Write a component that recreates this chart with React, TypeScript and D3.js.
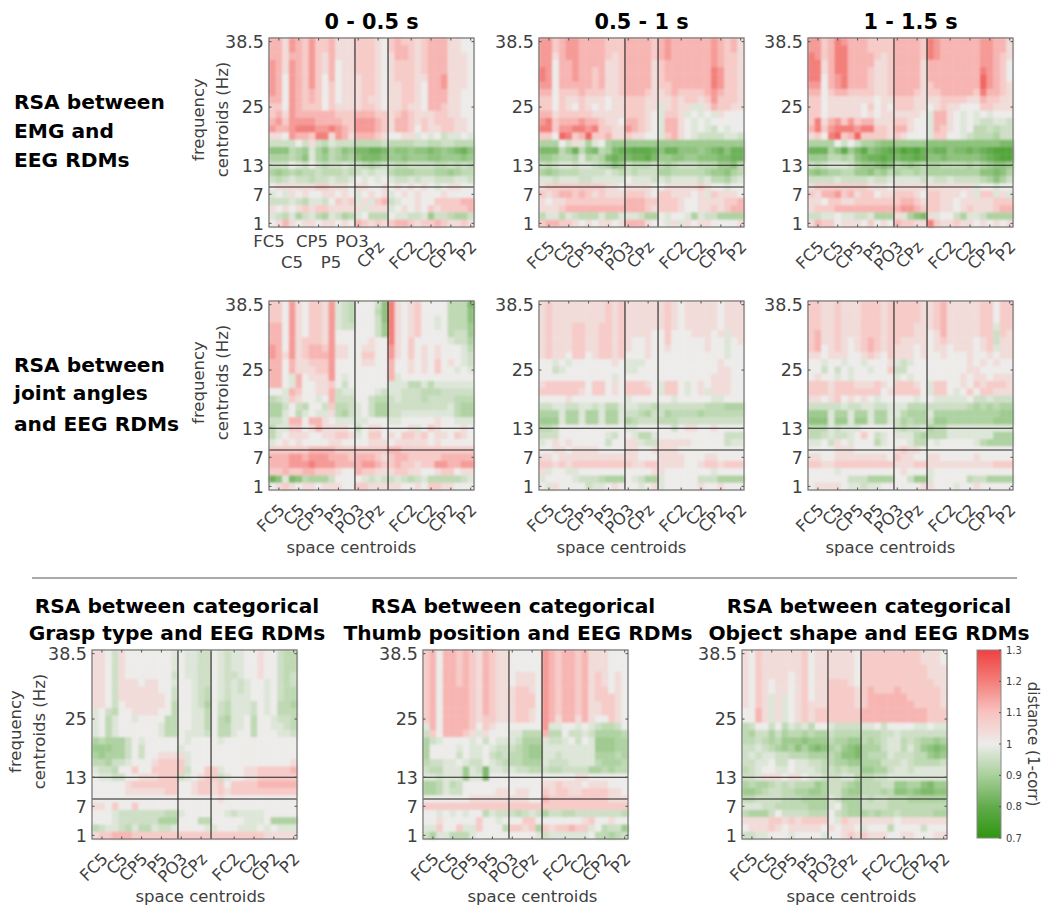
import React from 'react';
import * as d3 from 'd3';

// each row is one frequency centroid (38.5 Hz on top), each char one electrode
// digits = above 1, letters = below 1, groups are split where the black lines are
const emg0 = [
  '3314324223111 22210 2322123331100',
  '3314324223111 22210 2332123331100',
  '3313324213111 22210 1332123331110',
  '4314324213011 22210 1222123331110',
  '4314324213011 22210 1222123331110',
  '4304324203011 12210 1222113341110',
  '4304324202011 12210 1122103341110',
  '4304323202011 12210 1122103331100',
  '3304323202011 12110 1122103331100',
  '2204322202111 12210 1121103321100',
  '2314333333222 33322 1232111221100',
  '3424444333322 44432 1332121222110',
  '4334555445432 44432 1332021122110',
  '1104332551431 33321 0011a0a0baa0a',
  'bbbb0b1bcabbb ccccb ccccbbccbbccc',
  'fffcdeadfcdfe gghhg effeffgfefghf',
  'dddcdfadecded fgggf eefeeeffeeefe',
  'bbb0ab0bcbbab bcdcb bccbbbbccbcbc',
  'dedcdccbcccbc babaa cdddcccddedcc',
  'bcbabbcbbabba 0a0a0 abbabaabbbaab',
  '0111111221110 11001 0101010a01100',
  'a0a1010011010 a0101 a010100010000',
  'bbbabcaab0212 a1a23 ba00100222233',
  '1010121221111 1a111 a010102122223',
  'abcadbacdabdc a0ccc 0aabbaebbcddb',
  '0131011011010 32121 2332122321121',
];
const emg1 = [
  '4423443333222 33332 3433333343231',
  '4423443333222 33332 3433333343231',
  '4413443333212 33332 3433333343221',
  '4403343333112 33331 2333333343221',
  '5403343323112 33331 2333333354221',
  '5403343323112 33331 2333333354221',
  '4403333323112 33331 2233333354221',
  '3302223222112 33321 1232222343221',
  '2202112111011 22211 1121221242221',
  '2202102101011 22211 a1211aa132211',
  '3312222211111 22210 a221a0a0a1000',
  '4523334332110 33210 a3310a0a00000',
  '5524455452211 43210 a3310a0ab0a00',
  '2206523622311 21100 a2310abbbbaab',
  'ddd0b1ada0dee eeeee eeeeeeeeeeeee',
  'gggcehcfgcdgh hiiih fhhfffefghfhh',
  'eedccdadcdghg ghhig eeffeefffgghh',
  'bcbaabaabcdfe bcccb cdcbbbccceefc',
  'dedcccbbbbabc bcbbb ddcccccdeefdc',
  'aabaaabbaaaaa 0aaab abaaaabaccdba',
  '1222222222110 11110 0111112100a00',
  '2123323212111 22210 2211101a21110',
  '1011222222222 33322 2221001111223',
  '1112333333333 33321 2221001121233',
  'caacabcccacca aabdd 0a00adabbdddd',
  '2332210101101 33310 0a1a101100001',
];
const emg2 = [
  '4423543332222 33332 5433333344331',
  '4423553332222 33332 5433333344331',
  '5423553333212 33332 5433333344321',
  '5513553333112 33331 3333333344320',
  '5513553332112 33331 3333333354320',
  '5503453332112 33331 3333333364320',
  '4403453332112 33331 2333333364321',
  '3302332222112 33321 2233333253321',
  '2201111111011 22211 1122221132211',
  '2201111102010 22211 0121100022111',
  '2201111101011 11110 a3310a0a0a000',
  '2513424233111 22100 a3310a0abbaab',
  '3524555455221 33100 a3210a0ccbcbb',
  '1205623622221 21000 a2200abcccdbb',
  'dddd0b0bddeff eeeee fffffffffffgg',
  'hhhdfiegifghi hjijh ghhfgghghijjj',
  'eeeccdcfghhih ghhih ffgfffffghijj',
  'bcbaaabdeefgf cdedc ddccccdcdeffe',
  'efeddcceefdec dccdc ddddddddffgfd',
  'bbbbabbbbabba aaaab abbabbbbcdfdb',
  '1222222221110 11111 1111111a00a00',
  '2133423122011 22210 2211101a22a1a',
  '1102211222222 23321 2211011111222',
  '1222333333333 34432 2211012111233',
  'bbaa0aabbaddd 1adfg 1a00bdaabdddd',
  '1322011102010 32211 5211211010101',
];
const joint0 = [
  '2204102214abc 000bf 510120000cccg',
  '2204102214abc 000cf 510120000cccf',
  '2204102214abc 000bf 5101200a0cccf',
  '3304102214abb 000be 5101200a0ccce',
  '3304102214000 000be 510120000cbbe',
  '3304122214000 00100 510200000abbd',
  '4304123324110 01100 41020101000ac',
  '4314123334110 02200 41020101000ab',
  '3303112224000 01100 30010102010ab',
  '3303111224000 00000 3001010200a0a',
  '330a3011140a0 00000 3a00000000000',
  '330a3001120b0 00000 aaaccacaaaaaa',
  '00a3200113baa 000ab aabbbcccbbbbb',
  'cba2100a03bbb 00bcc babbbcbbbbccc',
  'ddb0bc00b2ccb a0bdd bbbbbbbbbacdd',
  'dda0ca0aa1cdb a0bdd bbaaaaaaaacdd',
  'bba3303310aaa aa000 aa00000100aaa',
  'caa2201311110 b0110 0001a02100010',
  'ca01110011221 a0220 1022120110210',
  'a010100001100 00111 0111110100000',
  '2222223333222 22222 3322222222222',
  '3334434443332 33321 2332222233333',
  '3334445444333 34432 2322122443344',
  '2232233222100 32211 1221100122011',
  'hfagfcdddb000 0abab babcbacccccba',
  '0121011011100 22111 1100102211000',
];
const joint1 = [
  '1211111111212 11111 1210111110111',
  '1211111111212 11111 1210111110111',
  '1211111111212 11111 1210111110111',
  '1211122112212 11111 1210111110111',
  '1211122112212 11110 0200011101a11',
  '1211122112212 10010 0200000100a01',
  '1211122112212 10010 0100000100a00',
  '1211022012212 00010 0000000000a00',
  '00a0a00000010 aaa00 0000000001000',
  '00ba000000000 aa000 0000000001100',
  '00000000000a0 00000 0000000011100',
  '1222222022010 22210 a220a01011100',
  '2222221022010 22220 a220a01a11100',
  '0000100000000 a0000 00a00000aa000',
  'bbaabbaabacca aabbc bbbbbbbcccddd',
  'dddaddaddadda bbcdb bdccccdcccccc',
  'eeeaddaddadda dcbbb cccbbbbbbbbbb',
  'ccb0000000000 aa000 00b0110010000',
  'bbb0000000ab0 0acca 0000000000bbb',
  'a010100000b00 11abb 1111100000baa',
  '0011011110000 11001 1110000000000',
  '1101111111111 11000 1111000110000',
  '2212122222222 21122 1111001221222',
  '1a00aa0000000 00001 10000000a0000',
  'a0000abbbcddd 0abdd a00000bbbdddd',
  '0a10000baa010 00a01 a000001001000',
];
const joint2 = [
  '2211211122212 22221 1231111122022',
  '2211211122212 22221 1231111122022',
  '2211211122212 22221 1231111122022',
  '2211211122212 22211 1231111122a22',
  '2311211122212 22211 0131111122b21',
  '2311210123212 21111 0121111012b11',
  '2301210123212 11101 0110111012a11',
  '1101110012102 11101 0010001001011',
  '00a00a00a0001 aba00 0000001010100',
  '00b0b0a00a002 bb000 0000001100000',
  '0100a0a000000 a0a00 0000010110111',
  '2221222111210 22210 a220010212221',
  '2221222222201 22220 a220a02022111',
  '1101201010a00 000a0 0aaaaa0bbabbb',
  'bbbbbabbaabba aaccc bbbbbbcdcdcdd',
  'eeeaddaddadda acddd addddddddddee',
  'fffaeeaeeadda bdcdd beedddddddeee',
  'cccabaaa00000 bcbba dccaaaaaaaaaa',
  'ccbabba020ba0 aaacd cccaaaaaaaddd',
  'aa0b10a000ca0 00acc 0a00000acdddd',
  '0000111000000 12110 0000000000000',
  '1100111111110 21100 1100000100000',
  '2211222222222 11122 1111111111222',
  '0000a00000000 01000 a000000000000',
  '000000bbbdddd 00bee a00000cbbdddd',
  '011110aabaa00 00001 1000a00100000',
];
const grasp = [
  '110b10000000a 0aabb 0abaa00100bcc',
  '110b10000000a 0aabb 0abaa00100bcc',
  '110b10000000a 0aabb 0abaa00100bcc',
  '110b10000000b 0aabb 0abba00100bcb',
  '110b11101100a 00abb 0ababa00a0bcb',
  '110b11111100b 00abc 0ababa00a0bcc',
  '110b11111110b 00abc 0abaaa00a0bcc',
  '110b01111110c 00abd 0bcaaab0a0ccd',
  'a0bc00111100c 00aac 0bcaaab0a0ccc',
  'a0ca00a0000cc 00aac 0cdaa0c00abbc',
  'a0ca000000acc 00aac 0ccaa0c00aabc',
  'a0ca000000acc 0aaab 0cca00c000aab',
  'dcdddb0a00000 0a000 0a00000000000',
  'eeeddb0b00000 a0000 0000000000000',
  'dedddb0b00111 1a000 0000000000000',
  'ccdbba0001222 2a000 0000000000001',
  'abbc002002222 2b002 2a00011222223',
  '0aabb00111222 ba012 2ba0011222222',
  '0000012222222 00122 1202222333333',
  '0000011111122 00122 1212222222222',
  '0000000000000 00000 0100000000000',
  '1102002000000 00000 0000000000000',
  '000abbbbbbbcc a0000 00abaaaa00000',
  '000abbbbbbddd 000cc 00000aaa0dddd',
  'cbaabcaccabba 0000a a000aaa0a0aaa',
  '1223332222222 22222 2222222211111',
];
const thumb = [
  '2303323213211 00000 4323323111000',
  '2303323213211 00000 4323323111000',
  '2303323213211 00000 4323323111000',
  '2303323213211 01110 4323323121010',
  '2303323213211 01110 4323323121010',
  '2303333213211 12210 4323323122010',
  '2303333213211 12220 4323323122210',
  '2303333213211 12220 4323323112210',
  '2303333213211 12210 4323323112210',
  '2303333212211 12210 4313313100210',
  'a303333202100 00000 4aa00a0abccb0',
  'b2033321a1000 aaccc 3cc0bbabddddc',
  'dba0000a0b0aa abddd abba0b0aeeedd',
  'd0000a0aa0abb bcdee aaaaaaaaeeedd',
  'd0000b0aa0bcb ccdee aabaaaaadddcd',
  'cbbaa0abb0abc ccddd abbbaaaacdddc',
  'bccaaaeabgaab abbcc bccbbbbddcdcc',
  'aabaaaeaag000 00000 0000011000000',
  'ddcacb0000000 00000 1121110111000',
  'ddcabb0000011 01100 2122112222110',
  '0000000111111 11100 3222222222111',
  '2222222222222 22222 2222222222222',
  '00a0a0a00cabb bcbab dbbccbbbbbbbc',
  '00100000200a0 00220 0000001200100',
  'aa2002aa2000c 2212d 2122322a0cbbe',
  'bdaaccca00000 0000a baaaaaa0ccdcb',
];
const objectShape = [
  '1021111112011 11110 2222222221110',
  '1021111112011 11110 2222222221110',
  '1021111112011 11110 2222222222111',
  '1021111012011 11110 2222222222111',
  '1021011012011 22210 2222222222211',
  '1021011012011 22221 2322232222221',
  '1021a1a012011 22221 2333333222221',
  '1021a1a012111 22221 2333333322221',
  '0031a1a012122 22222 3333333333222',
  '0031a1a012122 22222 3333333333222',
  'cb00b0cabac00 abbbb aa0b0000aa0aa',
  'cdbbdbdccdcdd bcccc cccbbabbbbbbb',
  'ccbcdceeefeee cddee cdcbaacbcdded',
  'bbabcdedfdfgf dcefg dddbaacacefgf',
  'babaabbcccddd cdffg dcccabbbccefe',
  'bbaa0bb0aabbc cddee dddbbbabccccb',
  'cba00aa0aaabc bcbcc eeddbaabaaaaa',
  'bba1110110aab bbaac ccbbaaaaaaaaa',
  'dcddcbcbccced bbcde cccbbeeddfgee',
  'eedcbbccddeed bbdee cccdcffefggff',
  'ccbbbbcccdddd abddd bcbbcccdddddd',
  'aaabbcccccddd a0cdd bbbbccccccccc',
  'cdddb0bbbbccc 0bcdd dcdccbcccccdd',
  '1111221212222 0a211 1111101111111',
  '0111210111110 10110 a000c0000b000',
  'bbaa000a0000a 00121 2111001100011',
];

const freqs = d3.range(26).map(i => 38.5 - i * 1.5);
const columns = d3.range(31);
const freqTicks = [1, 7, 13, 25, 38.5];
const freqLines = [8.5, 13];
const columnLines = [13, 18];
const electrodes = ['FC5', 'C5', 'CP5', 'P5', 'PO3', 'CPz', 'FC2', 'C2', 'CP2', 'P2'];
const electrodeCols = [1, 4, 7, 10, 13, 16, 21, 24, 27, 30];
const colorTicks = [0.7, 0.8, 0.9, 1, 1.1, 1.2, 1.3];
const colorStops = [0.7, 0.8, 0.9, 1, 1.1, 1.2, 1.3];
const colorRange = ['#2f960f', '#62ab4d', '#a9d09b', '#edecea', '#f8c3c0', '#f37f7a', '#f04040'];
// horizontal labels under the first panel: x offset from the panel, baseline below it
const firstPanelLabels = [[0, 20], [23, 41], [43, 20], [62, 41], [83, 20]];

const color = d3.scaleLinear<string>().domain(colorStops).range(colorRange);

const GREENS = 'abcdefghij';
const decode = (c: string) => {
  const g = GREENS.indexOf(c);
  return g >= 0 ? 1 - (g + 1) * 0.023 : 1 + Number(c) * 0.04;
};
const parse = (rows: string[]) => rows.map(r => Array.from(r.replace(/ /g, '')).map(decode));

const font = 'DejaVu Sans, Verdana, sans-serif';
const W = 205;
const H = 189;

function Heatmap({ rows, x, y, xLabel, xLabelShift = -20, yLabel, splitLabels }: any) {
  const xs = d3.scaleBand<number>().domain(columns).range([0, W]);
  const ys = d3.scaleBand<number>().domain(freqs).range([0, H]);
  const yHz = d3.scaleLinear().domain([0.25, 39.25]).range([H, 0]);
  const values = parse(rows);
  return (
    <g transform={`translate(${x},${y})`} fontFamily={font}>
      <g filter="url(#soft)">
        {values.map((row, i) =>
          row.map((v, j) => (
            <rect key={j} x={xs(j)} y={ys(freqs[i])} width={xs.bandwidth() + 0.4} height={ys.bandwidth() + 0.4} fill={color(v)} />
          ))
        )}
      </g>
      {freqLines.map(f => (
        <line key={f} x1={0} x2={W} y1={yHz(f)} y2={yHz(f)} stroke="#222" strokeWidth={1.1} />
      ))}
      {columnLines.map(c => (
        <line key={c} x1={xs(c)} x2={xs(c)} y1={0} y2={H} stroke="#222" strokeWidth={1.1} />
      ))}
      <rect width={W} height={H} fill="none" stroke="#707070" strokeWidth={1.2} />
      {freqTicks.map(f => (
        <g key={f}>
          <line x1={0} x2={2.5} y1={yHz(f)} y2={yHz(f)} stroke="#555" />
          <line x1={W - 2.5} x2={W} y1={yHz(f)} y2={yHz(f)} stroke="#555" />
          <text x={-5} y={yHz(f)} dy="0.36em" textAnchor="end" fontSize={17.5} fill="#404040">{f}</text>
        </g>
      ))}
      {electrodeCols.map((c, i) => {
        const tx = (xs(c) as number) + xs.bandwidth() / 2;
        const split = splitLabels && i < 5;
        return (
          <g key={c}>
            <line x1={tx} x2={tx} y1={H - 2.5} y2={H} stroke="#555" />
            <line x1={tx} x2={tx} y1={0} y2={2.5} stroke="#555" />
            {split ? (
              <text x={firstPanelLabels[i][0]} y={H + firstPanelLabels[i][1]} textAnchor="middle" fontSize={16.5} fill="#404040">{electrodes[i]}</text>
            ) : (
              <text transform={`translate(${tx + 7},${H + 21}) rotate(-45)`} textAnchor="end" fontSize={16.5} fill="#404040">{electrodes[i]}</text>
            )}
          </g>
        );
      })}
      {xLabel && <text x={W / 2 + xLabelShift} y={H + 63} textAnchor="middle" fontSize={16.5} fill="#404040">space centroids</text>}
      {yLabel && (
        <g fontSize={16.5} fill="#404040" textAnchor="middle">
          <text transform={`translate(${-yLabel},${H / 2 - 13}) rotate(-90)`}>frequency</text>
          <text transform={`translate(${-yLabel + 24},${H / 2 - 13}) rotate(-90)`}>centroids (Hz)</text>
        </g>
      )}
    </g>
  );
}

function Colorbar({ x, y }: { x: number; y: number }) {
  const w = 24;
  const h = 188;
  const scale = d3.scaleLinear().domain([0.7, 1.3]).range([h, 0]);
  return (
    <g transform={`translate(${x},${y})`} fontFamily={font}>
      <defs>
        <linearGradient id="cb" x1="0" y1="1" x2="0" y2="0">
          {colorStops.map(s => (
            <stop key={s} offset={(s - 0.7) / 0.6} stopColor={color(s)} />
          ))}
        </linearGradient>
      </defs>
      <rect width={w} height={h} fill="url(#cb)" stroke="#888" strokeWidth={1} />
      {colorTicks.map(t => (
        <g key={t}>
          <line x1={w - 2} x2={w} y1={scale(t)} y2={scale(t)} stroke="#555" />
          <text x={w + 5} y={scale(t)} dy="0.36em" fontSize={10} fill="#404040">{t}</text>
        </g>
      ))}
      <text transform={`translate(${w + 27},${h / 2}) rotate(90)`} textAnchor="middle" fontSize={15} fill="#404040">distance (1-corr)</text>
    </g>
  );
}

export default function App() {
  const topX = [269, 539, 808];
  const bold = { fontFamily: font, fontWeight: 700, fontSize: 20.2, fill: '#000' };
  return (
    <svg width={1043} height={908} style={{ position: 'absolute', left: 0, top: 0, background: '#fff' }}>
      <defs>
        <filter id="soft" x="-2%" y="-2%" width="104%" height="104%">
          <feGaussianBlur stdDeviation="1" />
        </filter>
      </defs>
      {['0 - 0.5 s', '0.5 - 1 s', '1 - 1.5 s'].map((t, i) => (
        <text key={t} x={topX[i] + W / 2} y={29} textAnchor="middle" {...bold} fontSize={20.8}>{t}</text>
      ))}
      <g {...bold}>
        <text x={14} y={109}>RSA between</text>
        <text x={14} y={138}>EMG and</text>
        <text x={14} y={167}>EEG RDMs</text>
        <text x={14} y={372}>RSA between</text>
        <text x={14} y={400}>joint angles</text>
        <text x={14} y={431}>and EEG RDMs</text>
      </g>
      <Heatmap rows={emg0} x={269} y={38} yLabel={65} splitLabels />
      <Heatmap rows={emg1} x={539} y={38} />
      <Heatmap rows={emg2} x={808} y={38} />
      <Heatmap rows={joint0} x={269} y={301} yLabel={65} xLabel />
      <Heatmap rows={joint1} x={539} y={301} xLabel />
      <Heatmap rows={joint2} x={808} y={301} xLabel />
      <line x1={32} x2={1017} y1={578} y2={578} stroke="#555" strokeWidth={1} />
      <g {...bold} textAnchor="middle">
        <text x={177} y={613}>RSA between categorical</text>
        <text x={177} y={640}>Grasp type and EEG RDMs</text>
        <text x={513} y={613}>RSA between categorical</text>
        <text x={518} y={640}>Thumb position and EEG RDMs</text>
        <text x={869} y={613}>RSA between categorical</text>
        <text x={869} y={640}>Object shape and EEG RDMs</text>
      </g>
      <Heatmap rows={grasp} x={92} y={650} yLabel={71} xLabel xLabelShift={6} />
      <Heatmap rows={thumb} x={423} y={650} xLabel xLabelShift={7} />
      <Heatmap rows={objectShape} x={742} y={650} xLabel xLabelShift={7} />
      <Colorbar x={977} y={650} />
    </svg>
  );
}
